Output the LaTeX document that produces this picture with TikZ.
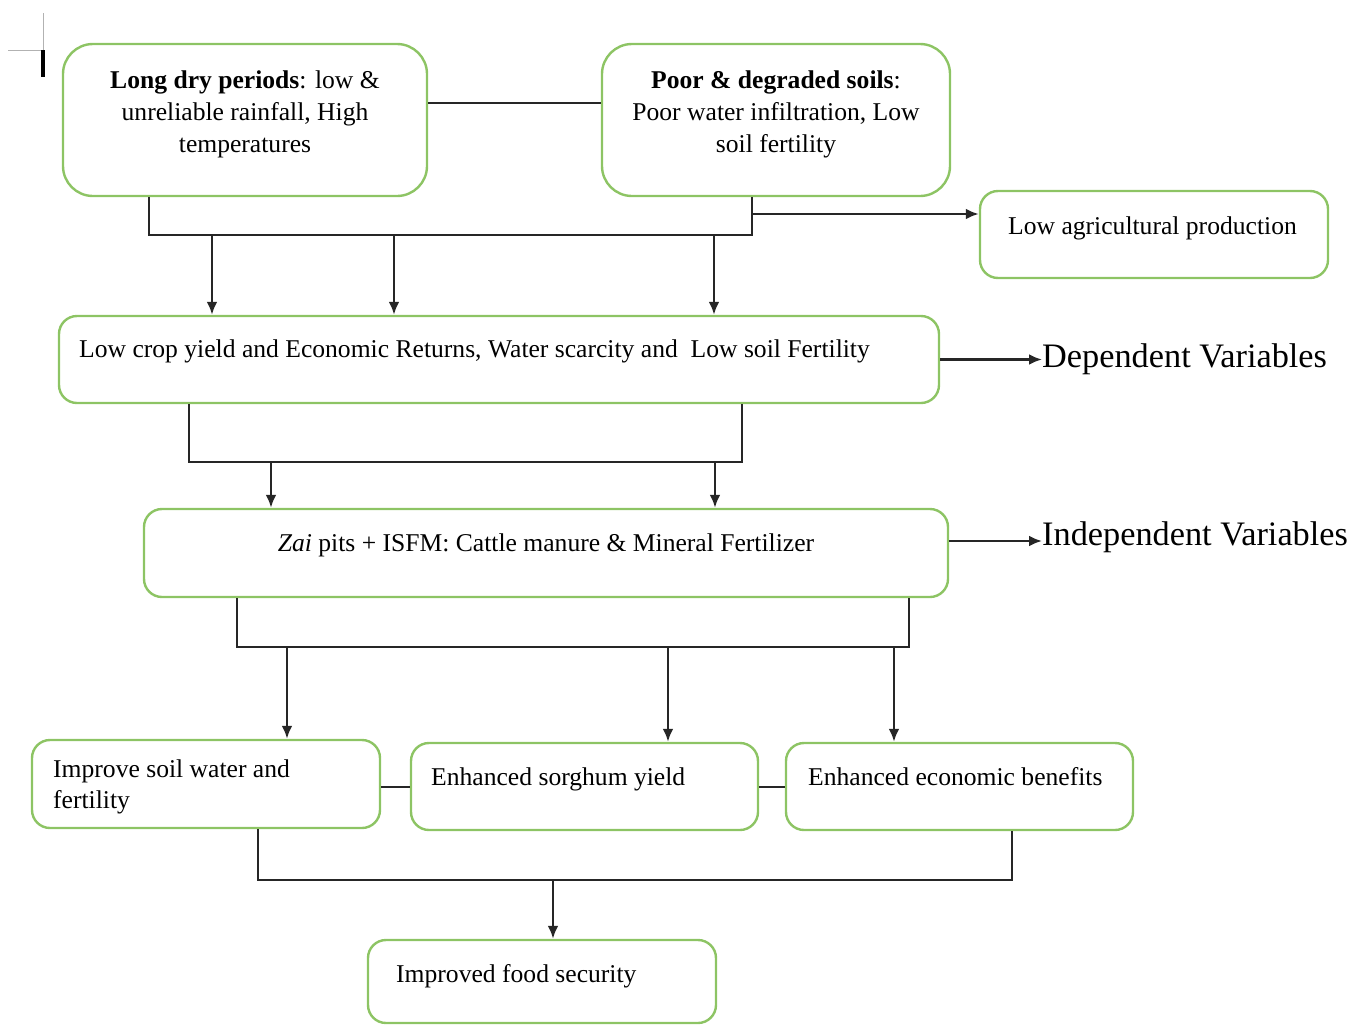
\documentclass[tikz,border=0pt]{standalone}
\usepackage{fontspec}
\setmainfont{Liberation Serif}
\usetikzlibrary{arrows.meta}
\definecolor{boxgreen}{RGB}{141,196,100}
\begin{document}
\begin{tikzpicture}[x=1pt,y=-1pt,
  box/.style={draw=boxgreen, line width=2.4pt, rounded corners=18pt, inner sep=0pt},
  bigbox/.style={box, rounded corners=30pt},
  txt/.style={font=\fontsize{25.6}{32}\selectfont, inner sep=0pt},
  bigtxt/.style={font=\fontsize{34.3}{40}\selectfont, inner sep=0pt},
  conn/.style={line width=2.7pt, draw=black!85},
  arr/.style={conn, -{Latex[length=13pt,width=11pt]}}]
\useasboundingbox (0,0) rectangle (1353,1026);

% crop mark
\draw[gray!60, line width=1pt] (8,50) -- (44,50);
\draw[gray!60, line width=1pt] (43,13) -- (43,50);
\draw[black, line width=4pt] (43,50) -- (43,77);

% boxes
\node[bigbox, minimum width=364pt, minimum height=152pt] (b1) at (245,120) {};
\node[bigbox, minimum width=348pt, minimum height=152pt] (b2) at (776,120) {};
\node[box, minimum width=348pt, minimum height=87pt] (b3) at (1154,234.5) {};
\node[box, minimum width=880pt, minimum height=87pt] (b4) at (499,359.5) {};
\node[box, minimum width=804pt, minimum height=88pt] (b5) at (546,553) {};
\node[box, minimum width=348pt, minimum height=88pt] (b6) at (206,784) {};
\node[box, minimum width=347pt, minimum height=87pt] (b7) at (584.5,786.5) {};
\node[box, minimum width=347pt, minimum height=87pt] (b8) at (959.5,786.5) {};
\node[box, minimum width=348pt, minimum height=83pt] (b9) at (542,981.5) {};

% texts
\node[txt, anchor=base] (t1a) at (245,88) {\textbf{Long dry periods}: low \&};
\node[txt, anchor=base] (t1b) at (245,120) {unreliable rainfall, High};
\node[txt, anchor=base] (t1c) at (245,152) {temperatures};
\node[txt, anchor=base] (t2a) at (776,88) {\textbf{Poor \& degraded soils}:};
\node[txt, anchor=base] (t2b) at (776,120) {Poor water infiltration, Low};
\node[txt, anchor=base] (t2c) at (776,152) {soil fertility};
\node[txt, anchor=base west] (t3) at (1008,234) {Low agricultural production};
\node[txt, anchor=base west] (t4) at (79,357) {Low crop yield and Economic Returns, Water scarcity and\ \ Low soil Fertility};
\node[txt, anchor=base] (t5) at (546,551) {\textit{Zai} pits + ISFM: Cattle manure \& Mineral Fertilizer};
\node[txt, anchor=base west] (t6a) at (53,777) {Improve soil water and};
\node[txt, anchor=base west] (t6b) at (53,808) {fertility};
\node[txt, anchor=base west] (t7) at (431,785) {Enhanced sorghum yield};
\node[txt, anchor=base west] (t8) at (808,785) {Enhanced economic benefits};
\node[txt, anchor=base west] (t9) at (396,982) {Improved food security};
\node[bigtxt, anchor=base west] (dep) at (1042,367) {Dependent Variables};
\node[bigtxt, anchor=base west] (ind) at (1042,545) {Independent Variables};

% coordinates
\coordinate (l12) at (0,103);
\coordinate (j1) at (149,235);
\coordinate (j2) at (752,235);
\coordinate (k1) at (752,214);
\coordinate (a1) at (212,235);
\coordinate (a2) at (394,235);
\coordinate (a3) at (714,235);
\coordinate (j3) at (189,462);
\coordinate (j4) at (742,462);
\coordinate (a4) at (271,462);
\coordinate (a5) at (715,462);
\coordinate (m5) at (0,541);
\coordinate (j5) at (237,647);
\coordinate (j6) at (909,647);
\coordinate (a6) at (287,647);
\coordinate (a7) at (668,647);
\coordinate (a8) at (894,647);
\coordinate (l67) at (0,787);
\coordinate (j7) at (258,880);
\coordinate (j8) at (1012,880);
\coordinate (a9) at (553,880);

% connectors
\draw[conn] (b1.east |- l12) -- (b2.west |- l12);
\draw[conn] (b1.south -| j1) -- (j1) -- (j2) -- (b2.south -| j2);
\draw[arr] (a1) -- (b4.north -| a1);
\draw[arr] (a2) -- (b4.north -| a2);
\draw[arr] (a3) -- (b4.north -| a3);
\draw[arr] (k1) -- (b3.west |- k1);
\draw[arr] (b4.east) -- (dep.west |- b4.east);

\draw[conn] (b4.south -| j3) -- (j3) -- (j4) -- (b4.south -| j4);
\draw[arr] (a4) -- (b5.north -| a4);
\draw[arr] (a5) -- (b5.north -| a5);
\draw[arr] (b5.east |- m5) -- (ind.west |- m5);

\draw[conn] (b5.south -| j5) -- (j5) -- (j6) -- (b5.south -| j6);
\draw[arr] (a6) -- (b6.north -| a6);
\draw[arr] (a7) -- (b7.north -| a7);
\draw[arr] (a8) -- (b8.north -| a8);
\draw[conn] (b6.east |- l67) -- (b7.west |- l67);
\draw[conn] (b7.east |- l67) -- (b8.west |- l67);

\draw[conn] (b6.south -| j7) -- (j7) -- (j8) -- (b8.south -| j8);
\draw[arr] (a9) -- (b9.north -| a9);
\end{tikzpicture}
\end{document}
